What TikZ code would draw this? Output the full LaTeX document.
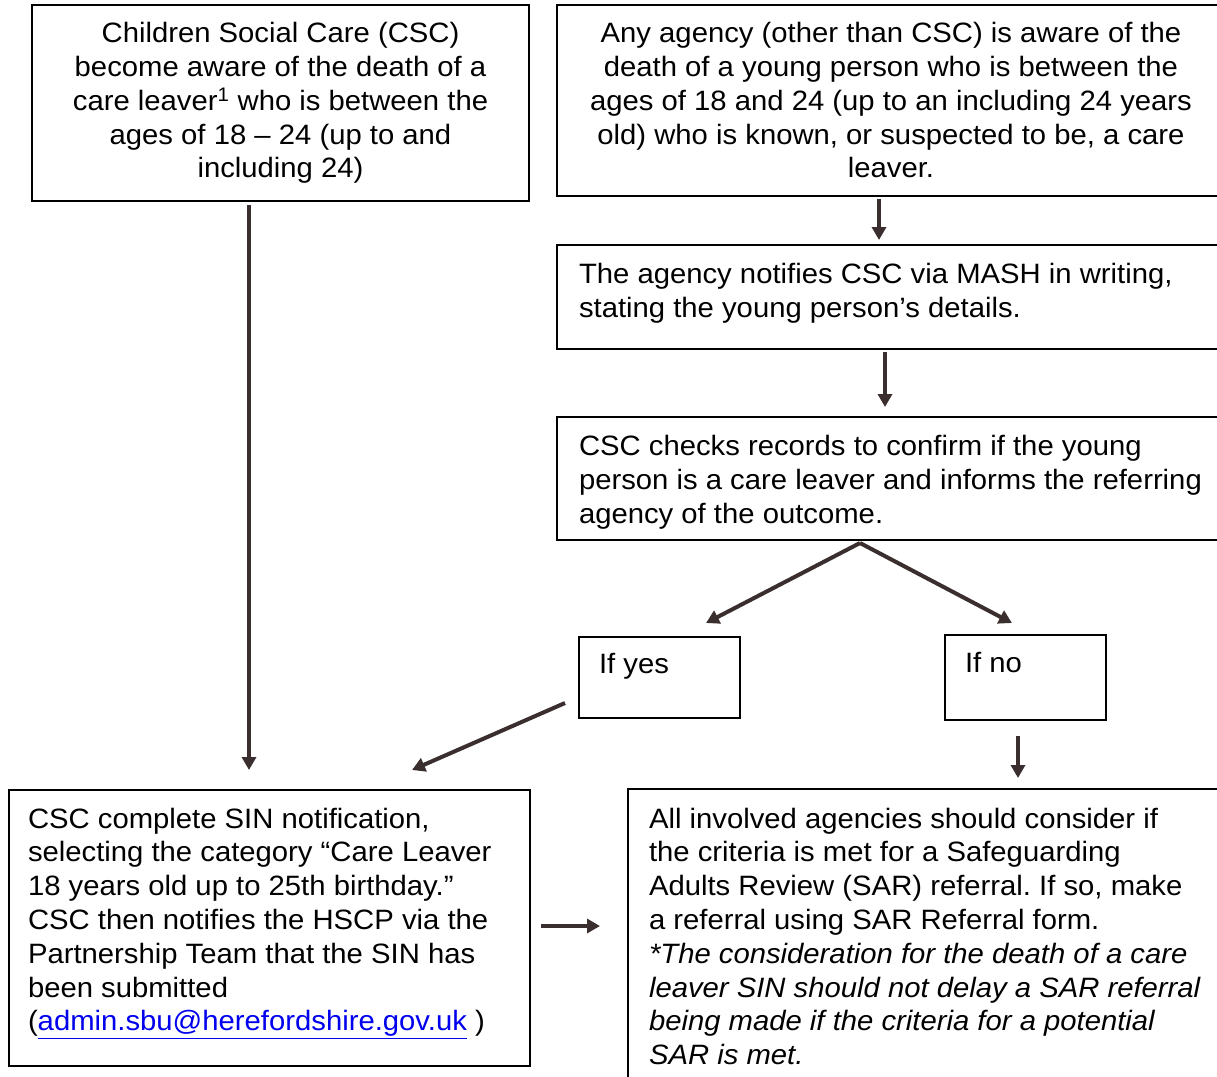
\documentclass[tikz,border=0pt]{standalone}
\usepackage{fontspec}
\setmainfont{Liberation Sans}[FakeStretch=1.045]
\usetikzlibrary{arrows.meta}
\definecolor{arrowcol}{RGB}{58,46,46}
\definecolor{linkblue}{RGB}{0,0,238}
\frenchspacing
\begin{document}
\begin{tikzpicture}[x=1pt,y=-1pt,
  box/.style={draw=black, line width=1.1pt, inner sep=0pt, outer sep=0pt, anchor=north west, rectangle},
  txt/.style={inner sep=0pt, outer sep=0pt, font=\fontsize{28}{33.8}\selectfont\frenchspacing},
  txtl/.style={txt, anchor=north west, align=left},
  txtc/.style={txt, anchor=north, align=center},
  arr/.style={draw=arrowcol, line width=4pt, -{Triangle[width=14pt,length=13pt]}}]
\useasboundingbox (0,0) rectangle (1217,1076);
\clip (0,0) rectangle (1217,1076);
% boxes
\node[box, minimum width=497pt, minimum height=196pt] (a) at (32,5) {};
\node[box, minimum width=668pt, minimum height=191pt] (b) at (557,5) {};
\node[box, minimum width=668pt, minimum height=104pt] (c) at (557,245) {};
\node[box, minimum width=668pt, minimum height=123pt] (d) at (557,417) {};
\node[box, minimum width=161pt, minimum height=81pt] (yes) at (579,637) {};
\node[box, minimum width=161pt, minimum height=85pt] (no) at (945,635) {};
\node[box, minimum width=521pt, minimum height=276pt] (e) at (9,790) {};
\node[box, minimum width=597pt, minimum height=301pt] (f) at (628,789) {};
% texts
\node[txtc] (ta) at (280.5,19) {\strut Children Social Care (CSC)\\become aware of the death of a\\care leaver\textsuperscript{1} who is between the\\ages of 18 – 24 (up to and\\including 24)};
\node[txtc] (tb) at (891,19) {\strut Any agency (other than CSC) is aware of the\\death of a young person who is between the\\ages of 18 and 24 (up to an including 24 years\\old) who is known, or suspected to be, a care\\leaver.};
\node[txtl] (tc) at (579,260) {\strut The agency notifies CSC via MASH in writing,\\stating the young person’s details.};
\node[txtl] (td) at (579,432) {\strut CSC checks records to confirm if the young\\person is a care leaver and informs the referring\\agency of the outcome.};
\node[txtl] (tyes) at (599,650) {\strut If yes};
\node[txtl] (tno) at (965,649) {\strut If no};
\node[txtl] (te) at (28,804.5) {\strut CSC complete SIN notification,\\selecting the category “Care Leaver\\18 years old up to 25th birthday.”\\CSC then notifies the HSCP via the\\Partnership Team that the SIN has\\been submitted\\(\textcolor{linkblue}{\underline{admin.sbu@herefordshire.gov.uk}} )};
\node[txtl] (tf) at (649,804.5) {\strut All involved agencies should consider if\\the criteria is met for a Safeguarding\\Adults Review (SAR) referral. If so, make\\a referral using SAR Referral form.\\\textit{*The consideration for the death of a care}\\\textit{leaver SIN should not delay a SAR referral}\\\textit{being made if the criteria for a potential}\\\textit{SAR is met.}};
% arrows
\draw[arr] ([xshift=-31.5pt,yshift=-4pt]a.south) -- ([xshift=-20.5pt,yshift=20pt]e.north);
\draw[arr] ([xshift=-12pt,yshift=-3pt]b.south) -- ([xshift=-12pt,yshift=5pt]c.north);
\draw[arr] ([xshift=-6pt,yshift=-3pt]c.south) -- ([xshift=-6pt,yshift=10pt]d.north);
\draw[arr] ([xshift=-31pt,yshift=-3pt]d.south) -- ([xshift=46.5pt,yshift=14pt]yes.north);
\draw[arr] ([xshift=-31pt,yshift=-3pt]d.south) -- ([xshift=-13.5pt,yshift=12pt]no.north);
\draw[arr] ([xshift=-14pt,yshift=-25.5pt]yes.west) -- ([xshift=142.5pt,yshift=20pt]e.north);
\draw[arr] ([xshift=-7.5pt,yshift=-16pt]no.south) -- ([xshift=91.5pt,yshift=11pt]f.north);
\draw[arr] ([xshift=11pt,yshift=2pt]e.east) -- ([xshift=-28pt,yshift=13.5pt]f.west);
\end{tikzpicture}
\end{document}
